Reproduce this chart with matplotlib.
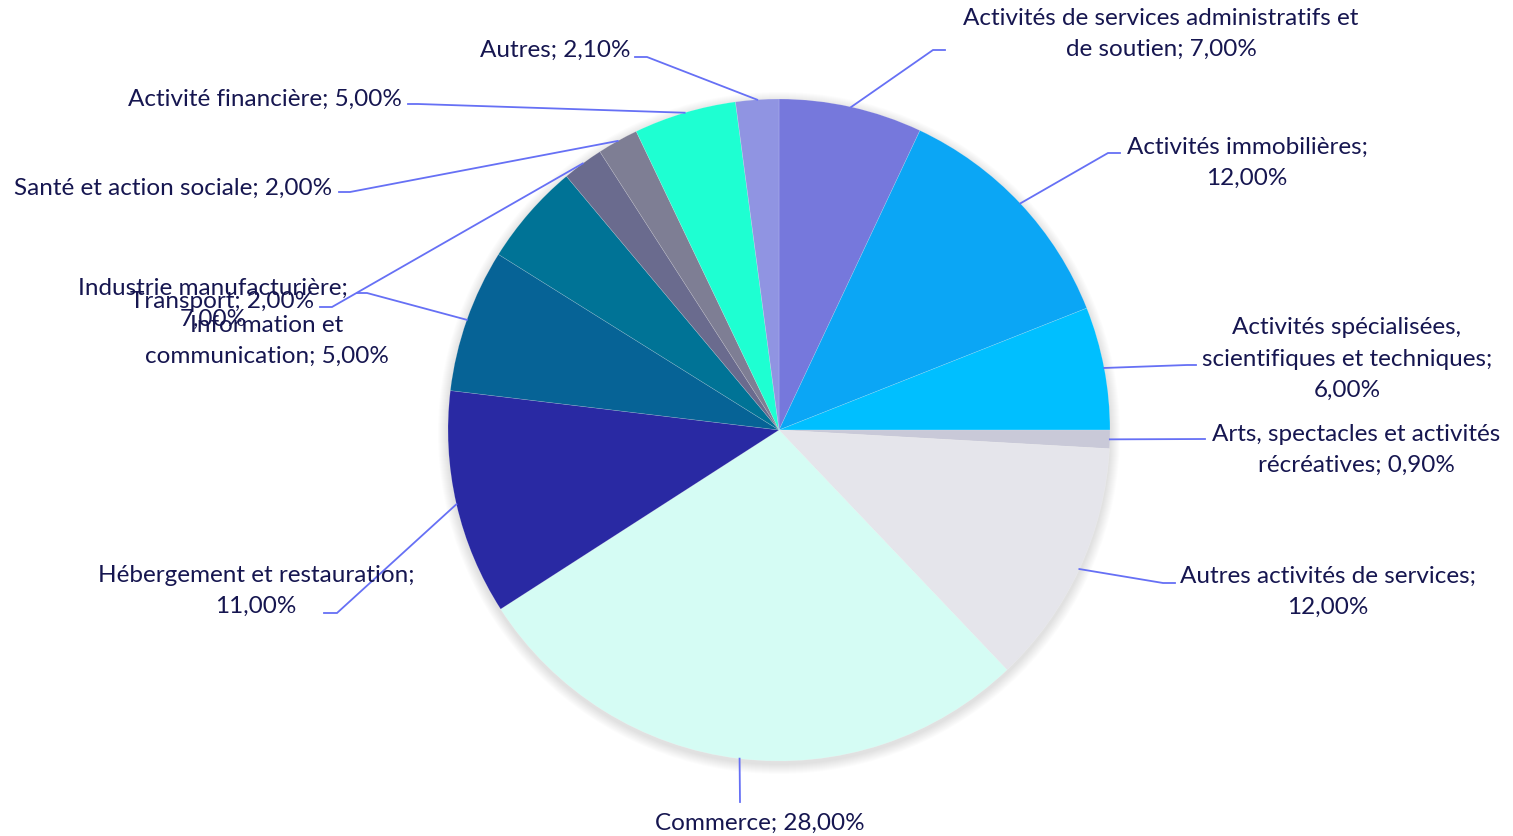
import numpy as np
import matplotlib
matplotlib.use("Agg")
import matplotlib.pyplot as plt
from matplotlib.patches import Circle

# slice data, clockwise from 12 o'clock
labels = [
    "Activités de services administratifs et\nde soutien",
    "Activités immobilières;\n",
    "Activités spécialisées,\nscientifiques et techniques;\n",
    "Arts, spectacles et activités\nrécréatives",
    "Autres activités de services;\n",
    "Commerce",
    "Hébergement et restauration;\n",
    "Industrie manufacturière;\n",
    "Information et\ncommunication",
    "Transport",
    "Santé et action sociale",
    "Activité financière",
    "Autres",
]
values = [7.0, 12.0, 6.0, 0.9, 12.0, 28.0, 11.0, 7.0, 5.0, 2.0, 2.0, 5.0, 2.1]
colors = ["#7678DC", "#0BA6F5", "#00BFFF", "#C9C9D8", "#E5E5EB", "#D5FCF4",
          "#2929A3", "#066396", "#007396", "#6A6B8E", "#7E7E94", "#1EFFD2", "#9094E2"]

W, H = 1513, 837
cx, cy, R = 779, 431, 331

# label layout in pixel coords (y down): text centre, elbow, line end
label_pos = [(1161, 34), (1247, 163), (1347, 359), (1356, 450), (1328, 592),
             (760, 823), (256, 591), (213, 304), (267, 341), (222, 301),
             (173, 188), (265, 99), (555, 50)]
elbows = [((933, 51), (945, 51)), ((1108, 154), (1120, 154)),
          ((1187, 366), (1196, 366)), ((1205, 440), (1205, 440)),
          ((1163, 584), (1175, 584)), ((740, 803), (740, 803)),
          ((337, 614), (324, 614)), ((367, 294), (357, 294)),
          None, ((332, 308), (320, 308)),
          ((350, 193), (339, 193)), ((418, 105), (408, 105)),
          ((647, 58), (635, 58))]


def fmt(v):
    return f"{v:.2f}".replace(".", ",") + "%"


def Y(y):
    return H - y


fig = plt.figure(figsize=(W / 100, H / 100), dpi=100)
ax = fig.add_axes([0, 0, 1, 1])

# soft shadow
for k in range(10):
    ax.add_patch(Circle((cx, Y(cy) - 3), R + 10 - k, color="#000000",
                        alpha=0.012, lw=0, zorder=0))

wedges, _ = ax.pie(values, colors=colors, startangle=90, counterclock=False,
                   center=(cx, Y(cy)), radius=R, frame=True,
                   wedgeprops=dict(linewidth=0.4, edgecolor="#ffffff40"))
ax.set_xlim(0, W)
ax.set_ylim(0, H)
ax.set_aspect("equal")
ax.axis("off")

line_col = "#6670F5"
for w, lab, v, pos, el in zip(wedges, labels, values, label_pos, elbows):
    ang = np.deg2rad((w.theta1 + w.theta2) / 2)
    sx = cx + R * np.cos(ang)
    sy = Y(cy) + R * np.sin(ang)
    if el is not None:
        (ex, ey), (tx, ty) = el
        ax.plot([sx, ex, tx], [sy, Y(ey), Y(ty)], color=line_col, lw=1.3,
                solid_joinstyle="miter", zorder=3)
    if lab.endswith("\n"):
        txt = lab + fmt(v)
    else:
        txt = lab + "; " + fmt(v)
    ax.text(pos[0], Y(pos[1]), txt, ha="center", va="center",
            fontsize=17.5, family="Lato", color="#161650",
            linespacing=1.6, zorder=4)

fig.savefig("out.png", dpi=100)
